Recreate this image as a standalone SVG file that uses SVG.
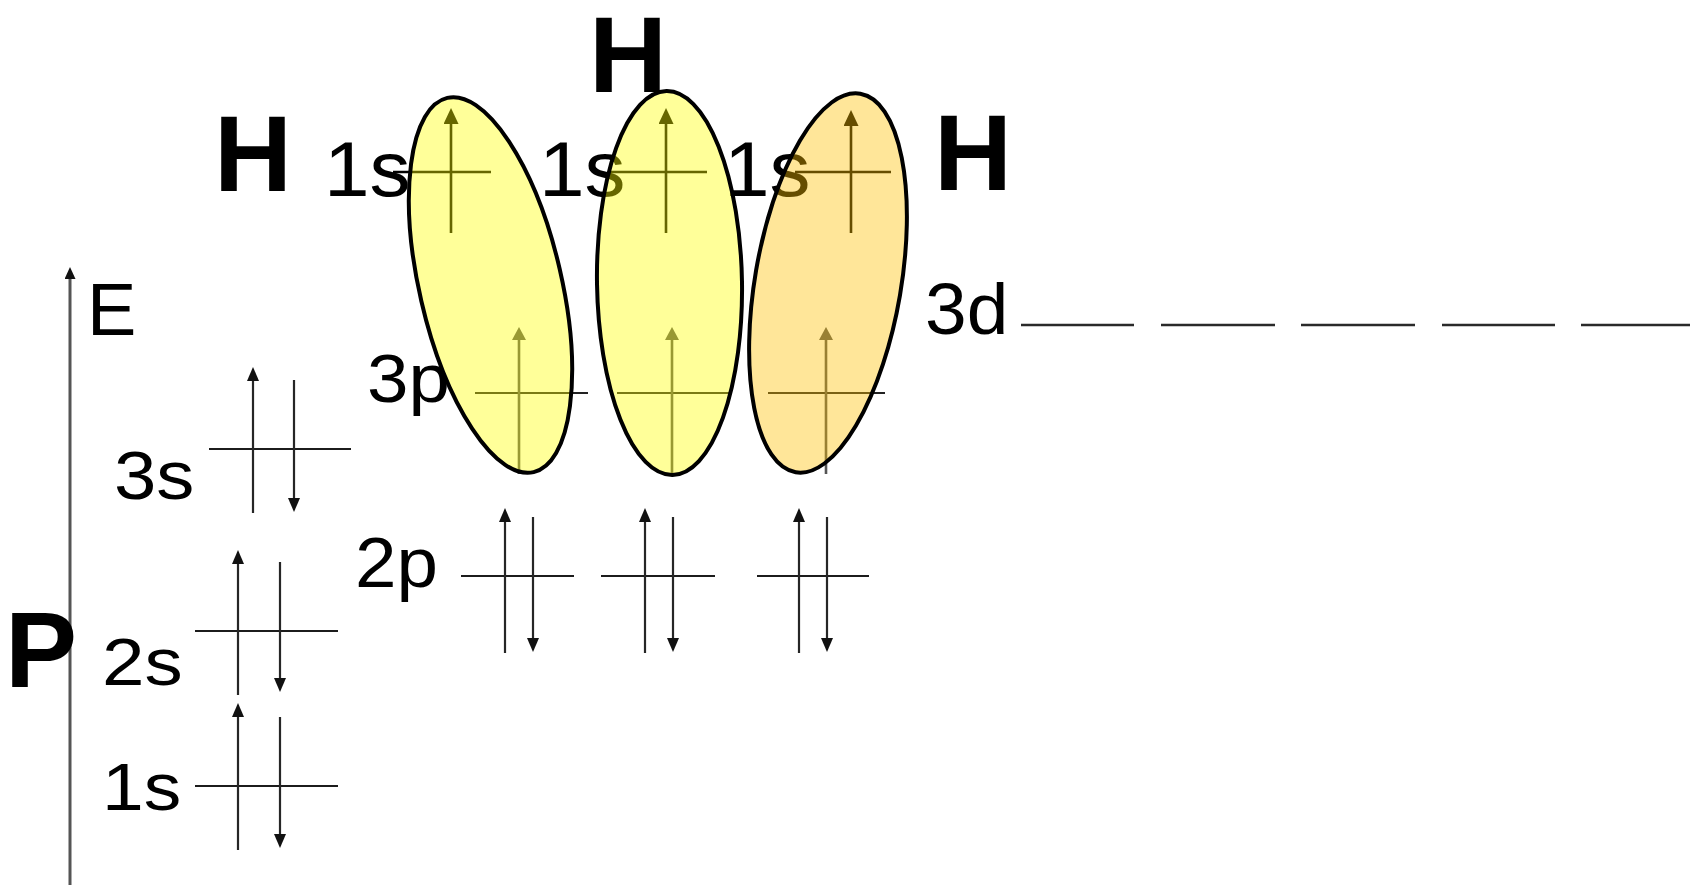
<svg xmlns="http://www.w3.org/2000/svg" width="1690" height="892" viewBox="0 0 1690 892">
  <style>
    text { font-family: "Liberation Sans", Arial, Helvetica, sans-serif; fill: #000; }
    .atom { font-weight: 700; font-size: 108px; }
    .lvl { stroke: #1c1c1c; stroke-width: 2.2; }
    .spin { stroke: #262626; stroke-width: 2.2; }
    .hs { stroke: #000; stroke-width: 2.6; }
    .p3 { stroke: #222; stroke-width: 2.2; }
    .p3s { stroke: #555; stroke-width: 2.6; }
    .d3 { stroke: #2a2a2a; stroke-width: 2.6; }
    .axis { stroke: #555; stroke-width: 3; }
    .lobe { stroke: #000; stroke-width: 4; fill-opacity: 0.4; }
  </style>
  <defs>
    <!-- arrowheads: base sits at the line end, tip points along the line -->
    <marker id="mh" viewBox="0 0 10 10" refX="0" refY="5" markerUnits="userSpaceOnUse" markerWidth="16" markerHeight="15" orient="auto" preserveAspectRatio="none">
      <path d="M0,0 L10,5 L0,10 z" fill="#000"/>
    </marker>
    <marker id="mp" viewBox="0 0 10 10" refX="0" refY="5" markerUnits="userSpaceOnUse" markerWidth="14" markerHeight="12" orient="auto" preserveAspectRatio="none">
      <path d="M0,0 L10,5 L0,10 z" fill="#111"/>
    </marker>
    <marker id="m3p" viewBox="0 0 10 10" refX="0" refY="5" markerUnits="userSpaceOnUse" markerWidth="13" markerHeight="14" orient="auto" preserveAspectRatio="none">
      <path d="M0,0 L10,5 L0,10 z" fill="#555"/>
    </marker>
    <marker id="max" viewBox="0 0 10 10" refX="0" refY="5" markerUnits="userSpaceOnUse" markerWidth="12" markerHeight="11" orient="auto" preserveAspectRatio="none">
      <path d="M0,0 L10,5 L0,10 z" fill="#111"/>
    </marker>
  </defs>

  <rect width="1690" height="892" fill="#fff"/>

  <!-- energy axis -->
  <g id="connectors">
    <line class="axis" x1="70" y1="885" x2="70" y2="279" marker-end="url(#max)"/>
  </g>
  <g id="axis-label"><text x="87" y="335" font-size="74">E</text></g>
  <g id="atom-P"><text class="atom" x="5" y="687" font-size="107">P</text></g>

  <!-- phosphorus core levels -->
  <g id="P-1s">
    <text transform="translate(102,810) scale(1.12,1)" font-size="67">1s</text>
    <line class="lvl" x1="195" y1="786" x2="338" y2="786"/>
    <line class="spin" x1="238" y1="850" x2="238" y2="717" marker-end="url(#mp)"/>
    <line class="spin" x1="280" y1="717" x2="280" y2="834" marker-end="url(#mp)"/>
  </g>
  <g id="P-2s">
    <text transform="translate(102,685) scale(1.14,1)" font-size="67">2s</text>
    <line class="lvl" x1="195" y1="631" x2="338" y2="631"/>
    <line class="spin" x1="238" y1="695" x2="238" y2="564" marker-end="url(#mp)"/>
    <line class="spin" x1="280" y1="562" x2="280" y2="678" marker-end="url(#mp)"/>
  </g>
  <g id="P-3s">
    <text transform="translate(114,499) scale(1.12,1)" font-size="68">3s</text>
    <line class="lvl" x1="209" y1="449" x2="351" y2="449"/>
    <line class="spin" x1="253" y1="513" x2="253" y2="381" marker-end="url(#mp)"/>
    <line class="spin" x1="294" y1="380" x2="294" y2="498" marker-end="url(#mp)"/>
  </g>
  <g id="P-2p">
    <text transform="translate(355,587) scale(1.05,1)" font-size="71">2p</text>
    <line class="lvl" x1="461" y1="576" x2="574" y2="576"/>
    <line class="lvl" x1="601" y1="576" x2="715" y2="576"/>
    <line class="lvl" x1="757" y1="576" x2="869" y2="576"/>
    <line class="spin" x1="505" y1="653" x2="505" y2="522" marker-end="url(#mp)"/>
    <line class="spin" x1="533" y1="517" x2="533" y2="638" marker-end="url(#mp)"/>
    <line class="spin" x1="645" y1="653" x2="645" y2="522" marker-end="url(#mp)"/>
    <line class="spin" x1="673" y1="517" x2="673" y2="638" marker-end="url(#mp)"/>
    <line class="spin" x1="799" y1="653" x2="799" y2="522" marker-end="url(#mp)"/>
    <line class="spin" x1="827" y1="517" x2="827" y2="638" marker-end="url(#mp)"/>
  </g>
  <g id="P-3p">
    <text transform="translate(367,402) scale(1.08,1)" font-size="69">3p</text>
    <line class="p3" x1="475" y1="393" x2="588" y2="393"/>
    <line class="p3" x1="617" y1="393" x2="730" y2="393"/>
    <line class="p3" x1="768" y1="393" x2="885" y2="393"/>
    <line class="p3s" x1="519" y1="474" x2="519" y2="340" marker-end="url(#m3p)"/>
    <line class="p3s" x1="672" y1="474" x2="672" y2="340" marker-end="url(#m3p)"/>
    <line class="p3s" x1="826" y1="474" x2="826" y2="340" marker-end="url(#m3p)"/>
  </g>
  <g id="P-3d">
    <text transform="translate(925,334) scale(1.04,1)" font-size="72">3d</text>
    <line class="d3" x1="1021" y1="325" x2="1134" y2="325"/>
    <line class="d3" x1="1161" y1="325" x2="1275" y2="325"/>
    <line class="d3" x1="1301" y1="325" x2="1415" y2="325"/>
    <line class="d3" x1="1442" y1="325" x2="1555" y2="325"/>
    <line class="d3" x1="1581" y1="325" x2="1690" y2="325"/>
  </g>

  <!-- hydrogen atoms and their 1s electrons -->
  <g id="H-left">
    <text class="atom" x="214" y="191">H</text>
    <text transform="translate(324,196) scale(1.05,1)" font-size="78">1s</text>
    <line class="hs" x1="393" y1="172" x2="491" y2="172"/>
    <line class="hs" x1="451" y1="233" x2="451" y2="124" marker-end="url(#mh)"/>
  </g>
  <g id="H-middle">
    <text class="atom" x="589" y="92">H</text>
    <text transform="translate(539,196) scale(1.05,1)" font-size="78">1s</text>
    <line class="hs" x1="610" y1="172" x2="707" y2="172"/>
    <line class="hs" x1="666" y1="233" x2="666" y2="124" marker-end="url(#mh)"/>
  </g>
  <g id="H-right">
    <text class="atom" x="934" y="190">H</text>
    <text transform="translate(724,196) scale(1.05,1)" font-size="78">1s</text>
    <line class="hs" x1="795" y1="172" x2="891" y2="172"/>
    <line class="hs" x1="851" y1="233" x2="851" y2="126" marker-end="url(#mh)"/>
  </g>

  <!-- P–H sigma bonds: 3p / 1s overlap lobes -->
  <g id="bond-1"><ellipse class="lobe" cx="490.5" cy="285" rx="71" ry="192" fill="#ffff00" transform="rotate(-13 490.5 285)"/></g>
  <g id="bond-2"><ellipse class="lobe" cx="669.5" cy="283" rx="72.5" ry="192" fill="#ffff00" transform="rotate(-0.9 669.5 283)"/></g>
  <g id="bond-3"><ellipse class="lobe" cx="828" cy="283" rx="73" ry="192" fill="#ffc000" transform="rotate(9.7 828 283)"/></g>
</svg>
